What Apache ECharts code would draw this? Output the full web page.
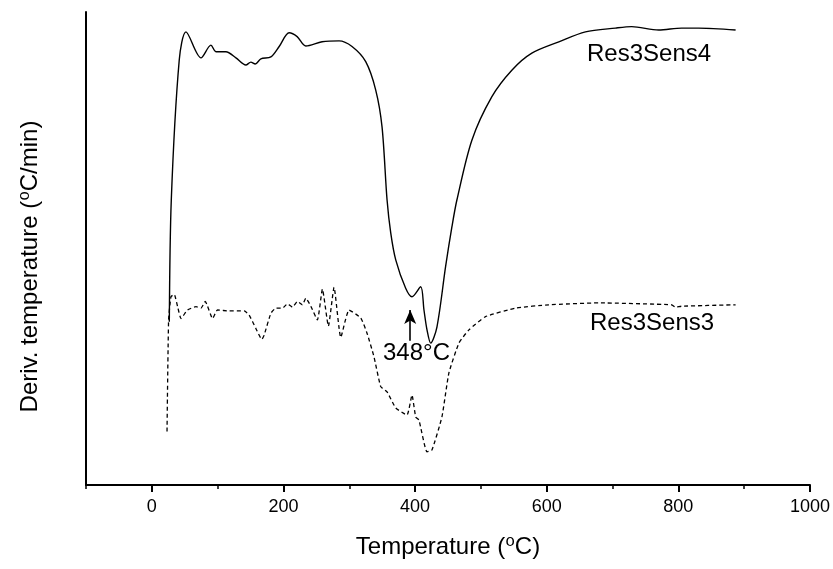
<!DOCTYPE html>
<html>
<head>
<meta charset="utf-8">
<script src="https://cdn.jsdelivr.net/npm/echarts@6/dist/echarts.min.js"></script>
<style>
  html, body { margin: 0; padding: 0; background: #fff; }
  #chart { width: 833px; height: 569px; }
</style>
</head>
<body>
<div id="chart"></div>
<script>
// 温度 (°C) 与导数值 (任意单位, 0-100)
const tempSens4 = [26.6, 29.6, 41.7, 51.9, 74.7, 89.8, 97.4, 112.6, 127.8, 142.9, 150.5, 157.1, 165.7, 180.9, 193.5, 208.6, 220.8, 234, 258.7, 284.5, 304.2, 325, 340.2, 349.8, 357.4, 363, 370.6, 385.7, 395.3, 408.5, 413.5, 418.1, 423.7, 433.2, 446.4, 456, 463.6, 486.3, 516.7, 547, 577.4, 618.4, 658.9, 704.4, 729.1, 770.1, 805, 830.8, 887];
const valSens4 = [34.5, 60.3, 89.9, 95.8, 90.3, 93.0, 91.6, 91.6, 90.3, 88.8, 89.4, 89.0, 90.1, 90.5, 92.7, 95.6, 94.8, 92.8, 93.7, 93.9, 92.7, 89.5, 83.5, 75.7, 60.3, 53.3, 47.6, 41.6, 39.8, 41.9, 37.0, 32.8, 30.0, 33.4, 46.2, 54.6, 60.3, 72.9, 82.1, 87.7, 91.3, 93.7, 95.8, 96.6, 96.9, 96.2, 96.6, 96.6, 96.2];

const tempSens3 = [23.1, 25.5, 29.1, 34.1, 39.2, 44.3, 54.3, 67.1, 74.7, 81.2, 92.3, 99.8, 117.6, 140.4, 147.9, 158.1, 167.2, 170.7, 180.9, 188.5, 198.5, 206.1, 213.7, 221.2, 228.8, 234, 241.6, 251.6, 259.2, 268.3, 276.9, 287.1, 299.7, 317.5, 327, 337.6, 347.8, 357.4, 370.6, 387.7, 395.3, 400.9, 405.9, 418.1, 425.6, 440.8, 451.4, 466.6, 481.8, 507.1, 552.7, 603.2, 679, 789.8, 795.4, 805, 887];
const valSens3 = [11.3, 34.9, 39.8, 40.3, 37.7, 35.2, 37.0, 37.7, 37.4, 38.8, 35.2, 37.0, 36.8, 36.8, 35.9, 33.1, 30.8, 31.7, 36.3, 37.4, 37.4, 38.3, 37.6, 38.8, 38.1, 39.5, 37.8, 34.9, 41.4, 33.6, 41.8, 31.2, 37.0, 35.3, 32.1, 27.1, 20.8, 19.7, 16.3, 14.8, 19.0, 14.4, 13.7, 7.0, 7.4, 14.4, 23.7, 30.0, 32.8, 35.6, 37.4, 38.1, 38.5, 38.1, 37.6, 37.8, 38.1];

// x轴刻度
const majorTicks = [0, 200, 400, 600, 800, 1000];
const minorTicks = [-100, 100, 300, 500, 700, 900];

// 箭头 (348°C 标注)
const arrowTemp = 392.6;
const arrowFrom = 30.5;
const arrowTo = 37;

const FONT = "'Liberation Sans', Arial, 'DejaVu Sans', sans-serif";

const chartInstance = echarts.init(document.getElementById("chart"));

const option = {
  backgroundColor: "#fff",
  animation: false,
  grid: {
    left: 86,
    right: 21,
    top: 12,
    bottom: 84,
  },
  xAxis: [
    {
      type: "value",
      min: -100,
      max: 1000,
      name: "Temperature (\u2070C)",
      nameLocation: "middle",
      nameGap: 50,
      nameTextStyle: {
        fontSize: 24,
        fontFamily: FONT,
        color: "#000",
      },
      axisLine: {
        show: true,
        onZero: false,
        lineStyle: { color: "#000", width: 2 },
      },
      axisTick: {
        show: true,
        inside: false,
        length: 7,
        customValues: majorTicks,
        lineStyle: { color: "#000", width: 2 },
      },
      axisLabel: {
        customValues: majorTicks,
        formatter: (v) => String(v),
        fontSize: 18,
        fontFamily: FONT,
        color: "#000",
        margin: 13,
      },
      splitLine: { show: false },
    },
    {
      // 次刻度
      type: "value",
      min: -100,
      max: 1000,
      position: "bottom",
      axisLine: { show: false, onZero: false },
      axisTick: {
        show: true,
        length: 4,
        customValues: minorTicks,
        lineStyle: { color: "#000", width: 1.5 },
      },
      axisLabel: { show: false },
      splitLine: { show: false },
    },
  ],
  yAxis: {
    type: "value",
    min: 0,
    max: 100,
    name: "Deriv. temperature (\u2070C/min)",
    nameLocation: "middle",
    nameGap: 44,
    nameTextStyle: {
      fontSize: 24,
      fontFamily: FONT,
      color: "#000",
      padding: [0, 36, 0, 0],
    },
    axisLine: {
      show: true,
      onZero: false,
      lineStyle: { color: "#000", width: 2 },
    },
    axisTick: { show: false },
    axisLabel: { show: false },
    splitLine: { show: false },
  },
  series: [
    {
      name: "Res3Sens4",
      type: "line",
      data: tempSens4.map((t, i) => [t, valSens4[i]]),
      showSymbol: false,
      smooth: 0.3,
      lineStyle: { color: "#000", width: 1.4 },
      markLine: {
        silent: true,
        symbol: ["none", "arrow"],
        symbolSize: [9, 14],
        label: { show: false },
        lineStyle: { color: "#000", width: 1.6, type: "solid" },
        data: [
          [
            { coord: [arrowTemp, arrowFrom] },
            { coord: [arrowTemp, arrowTo] },
          ],
        ],
      },
    },
    {
      name: "Res3Sens3",
      type: "line",
      data: tempSens3.map((t, i) => [t, valSens3[i]]),
      showSymbol: false,
      smooth: 0.15,
      lineStyle: { color: "#000", width: 1.3, type: [4, 3] },
    },
  ],
  graphic: [
    {
      type: "text",
      left: 587,
      top: 42,
      style: { text: "Res3Sens4", font: "24px " + FONT, fill: "#000" },
    },
    {
      type: "text",
      left: 590,
      top: 311,
      style: { text: "Res3Sens3", font: "24px " + FONT, fill: "#000" },
    },
    {
      type: "text",
      left: 383,
      top: 341,
      style: { text: "348\u00b0C", font: "24px " + FONT, fill: "#000" },
    },
  ],
};

chartInstance.setOption(option);
</script>
</body>
</html>
